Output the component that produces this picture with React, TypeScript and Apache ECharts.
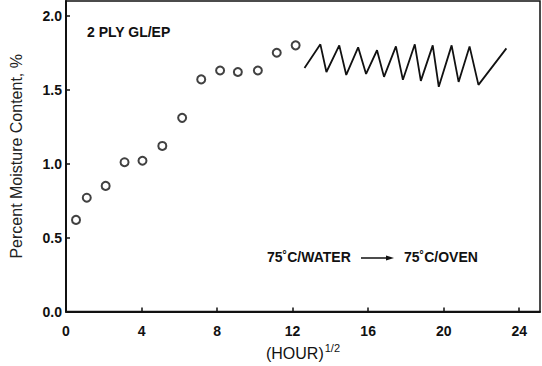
import React, { useEffect, useRef } from "react";
import * as echarts from "echarts";

// (HOUR)^1/2 and moisture % of the open-circle absorption points
const sqrtHours = [0.53, 1.1, 2.1, 3.1, 4.05, 5.1, 6.15, 7.16, 8.16, 9.1, 10.16, 11.16, 12.16];
const moisture = [0.62, 0.77, 0.85, 1.01, 1.02, 1.12, 1.31, 1.57, 1.63, 1.62, 1.63, 1.75, 1.8];

// Cycling water/oven sawtooth
const cycleX = [12.63, 13.47, 13.79, 14.47, 14.84, 15.47, 15.89, 16.47, 16.84, 17.47, 17.84, 18.47, 18.79, 19.42, 19.74, 20.42, 20.79, 21.37, 21.84, 23.32];
const cycleY = [1.647, 1.807, 1.62, 1.8, 1.6, 1.787, 1.607, 1.767, 1.587, 1.793, 1.567, 1.807, 1.56, 1.8, 1.52, 1.8, 1.553, 1.793, 1.533, 1.78];

const xTicks = [0, 4, 8, 12, 16, 20, 24];
const yTicks = [0, 0.5, 1.0, 1.5, 2.0];

const specimenLabel = "2 PLY GL/EP";
const fromLabel = "75\u02DAC/WATER";
const toLabel = "75\u02DAC/OVEN";

export default function App() {
  const ref = useRef<HTMLDivElement>(null);
  useEffect(() => {
    if (!ref.current) return;
    const chart = echarts.init(ref.current, null, { renderer: "svg" });
    const font = "'Liberation Sans', Arial, sans-serif";
    chart.setOption({
      animation: false,
      backgroundColor: "#ffffff",
      grid: {
        left: 62,
        right: 2,
        top: 1,
        bottom: 49,
        show: true,
        borderColor: "#111",
        borderWidth: 1.5,
      },
      xAxis: {
        type: "value",
        min: 0,
        max: 25.1,
        interval: 4,
        splitLine: { show: false },
        axisLine: { show: true, lineStyle: { color: "#111", width: 2 } },
        axisTick: { show: true, inside: true, length: 4, customValues: xTicks, lineStyle: { color: "#111", width: 1.5 } },
        axisLabel: {
          customValues: xTicks,
          color: "#111",
          fontFamily: font,
          fontWeight: "bold",
          fontSize: 14,
          margin: 12,
          formatter: (v: number) => String(v),
        },
        name: "{a|(HOUR)}{b|1/2}",
        nameLocation: "middle",
        nameGap: 30,
        nameTextStyle: {
          rich: {
            a: { fontFamily: font, fontSize: 16, color: "#111" },
            b: { fontFamily: font, fontSize: 11, color: "#111", padding: [0, 0, 10, 1] },
          },
        },
      },
      yAxis: {
        type: "value",
        min: 0,
        max: 2.1,
        interval: 0.5,
        splitLine: { show: false },
        axisLine: { show: true, lineStyle: { color: "#111", width: 2 } },
        axisTick: { show: true, inside: true, length: 4, customValues: yTicks, lineStyle: { color: "#111", width: 1.5 } },
        axisLabel: {
          customValues: yTicks,
          color: "#111",
          fontFamily: font,
          fontWeight: "bold",
          fontSize: 14,
          margin: 4,
          formatter: (v: number) => v.toFixed(1),
        },
        name: "Percent Moisture Content, %",
        nameLocation: "middle",
        nameGap: 42,
        nameTextStyle: { fontFamily: font, fontSize: 16, color: "#222" },
      },
      series: [
        {
          type: "scatter",
          data: sqrtHours.map((x, i) => [x, moisture[i]]),
          symbol: "circle",
          symbolSize: 8,
          itemStyle: { color: "#fff", borderColor: "#111", borderWidth: 2 },
          z: 3,
        },
        {
          type: "line",
          data: cycleX.map((x, i) => [x, cycleY[i]]),
          showSymbol: false,
          symbol: "none",
          lineStyle: { color: "#111", width: 1.8 },
          z: 2,
        },
      ],
      graphic: [
        {
          type: "text",
          x: 87,
          y: 32,
          style: { text: specimenLabel, font: `bold 14px ${font}`, fill: "#111", textVerticalAlign: "middle" },
        },
        {
          type: "text",
          x: 267,
          y: 257,
          style: { text: fromLabel, font: `bold 14px ${font}`, fill: "#111", textVerticalAlign: "middle" },
        },
        {
          type: "line",
          shape: { x1: 361, y1: 258, x2: 390, y2: 258 },
          style: { stroke: "#111", lineWidth: 1.5 },
        },
        {
          type: "polygon",
          shape: { points: [[386, 255.5], [394, 258], [386, 260.5]] },
          style: { fill: "#111" },
        },
        {
          type: "text",
          x: 404,
          y: 257,
          style: { text: toLabel, font: `bold 14px ${font}`, fill: "#111", textVerticalAlign: "middle" },
        },
      ],
    });
    return () => chart.dispose();
  }, []);
  return (
    <div
      ref={ref}
      style={{ position: "fixed", left: 0, top: 0, width: 542, height: 366, background: "#fff" }}
    />
  );
}
